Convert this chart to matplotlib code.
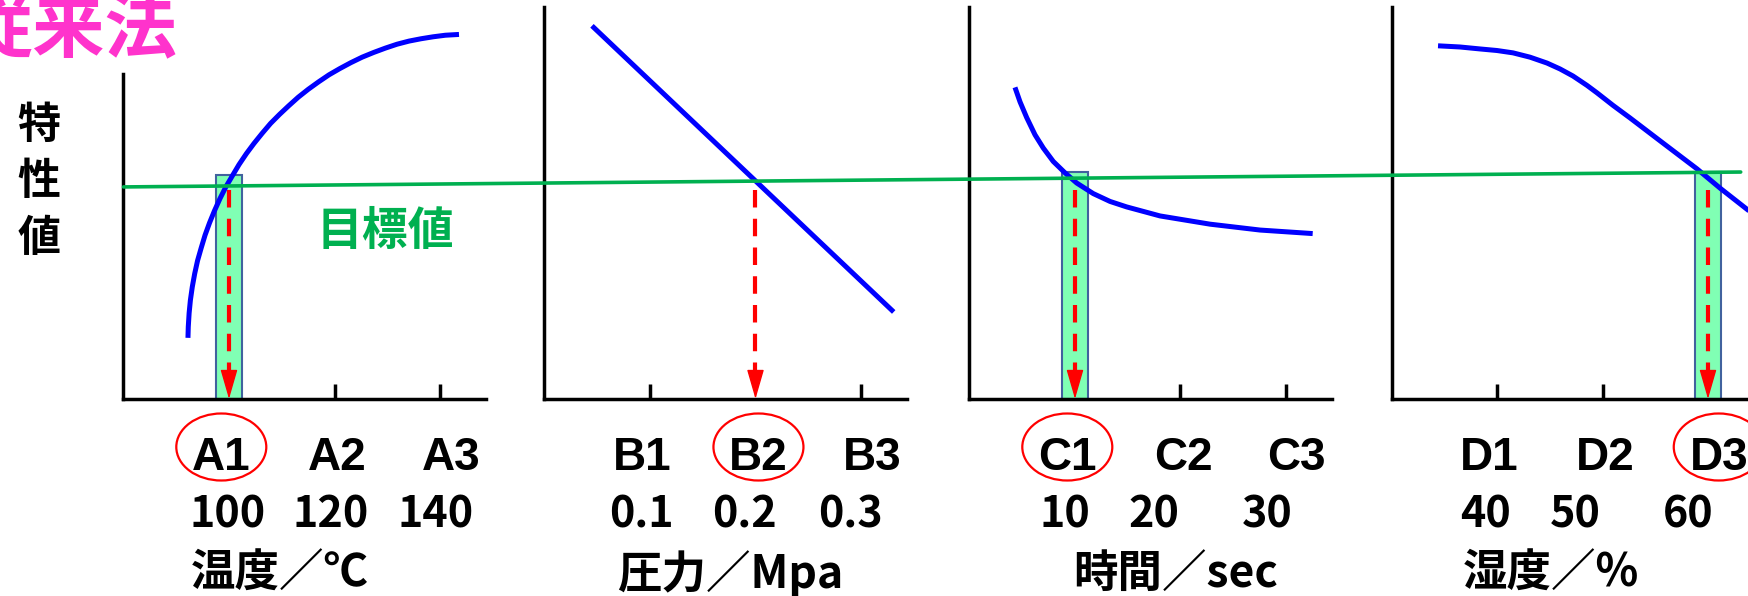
import matplotlib.pyplot as plt
import matplotlib.transforms as mtransforms
from matplotlib.patches import Ellipse, ConnectionPatch

plt.rcParams['font.family'] = ['Noto Sans CJK JP', 'DejaVu Sans']

# 因子ごとの水準ラベル
level_codes = [['A1', 'A2', 'A3'],
               ['B1', 'B2', 'B3'],
               ['C1', 'C2', 'C3'],
               ['D1', 'D2', 'D3']]
level_values = [['100', '120', '140'],
                ['0.1', '0.2', '0.3'],
                ['10', '20', '30'],
                ['40', '50', '60']]
factor_names = ['温度／℃', '圧力／Mpa', '時間／sec', '湿度／%']

# 特性値の曲線（x: 水準, y: 特性値）
temp_x = [0.611, 0.614, 0.622, 0.634, 0.652, 0.675, 0.702, 0.736, 0.773,
          0.815, 0.862, 0.914, 0.970, 1.031, 1.095, 1.165, 1.237, 1.315,
          1.394, 1.479, 1.566, 1.657, 1.751, 1.849, 1.948, 2.051, 2.155,
          2.262, 2.371, 2.481, 2.592, 2.706, 2.820, 2.935, 3.051, 3.180]
temp_y = [15.6, 18.4, 21.9, 25.2, 28.6, 32.0, 35.3, 38.5, 41.8,
          44.9, 48.0, 51.1, 54.1, 56.9, 59.8, 62.6, 65.2, 67.8,
          70.3, 72.6, 74.8, 77.0, 79.0, 80.9, 82.7, 84.3, 85.8,
          87.2, 88.4, 89.5, 90.5, 91.3, 91.9, 92.4, 92.8, 93.0]
press_x = [0.45, 3.31]
press_y = [95.2, 22.2]
time_x = [0.431, 0.479, 0.542, 0.621, 0.700, 0.794, 0.905, 1.016, 1.173,
          1.332, 1.490, 1.806, 2.280, 2.754, 3.253]
time_y = [79.5, 75.8, 71.8, 67.4, 64.0, 60.6, 57.7, 55.1, 52.4,
          50.4, 49.0, 46.7, 44.6, 43.1, 42.2]
humid_x = [0.441, 0.649, 0.839, 1.000, 1.152, 1.313, 1.474, 1.597, 1.720,
           1.853, 1.948, 2.100, 2.261, 2.573, 2.896, 3.114, 3.417]
humid_y = [90.1, 89.8, 89.3, 88.9, 88.3, 87.2, 85.7, 84.2, 82.4,
           80.0, 78.1, 74.9, 71.7, 65.3, 58.7, 53.8, 47.4]
curves = [(temp_x, temp_y), (press_x, press_y), (time_x, time_y), (humid_x, humid_y)]

# 選んだ水準と目標値
chosen_level = [1, 2, 1, 3]
band_top = [57.1, None, 57.9, 57.9]
arrow_from = [53.3, 53.3, 53.3, 53.3]
target_start = 54.1
target_end = 57.9

# レイアウト（ピクセル）
W, H = 1749, 596
axis_bottom, axis_top = 399, 7
level_px = 105.5
first_level_px = [229, 650, 1075, 1497]
spine_top = [82.9, 100, 100, 100]
x_max = 3.44
code_shift = [-0.073, 0.028, 0.102]
value_shift = [[-0.01, -0.04, -0.04],
               [-0.08, -0.10, -0.10],
               [-0.10, -0.25, -0.18],
               [-0.11, -0.26, -0.19]]
name_x = [0.64, 0.69, 0.98, 0.68]

blue = '#0000FF'
green = '#00B050'
red = '#FF0000'

fig = plt.figure(figsize=(17.49, 5.96), dpi=100)

axes = []
for i in range(4):
    left = (first_level_px[i] - level_px) / W
    ax = fig.add_axes([left, 1 - axis_bottom / H, x_max * level_px / W,
                       (axis_bottom - axis_top) / H])
    ax.set_xlim(0, x_max)
    ax.set_ylim(0, 100)
    ax.patch.set_alpha(0)
    ax.spines['top'].set_visible(False)
    ax.spines['right'].set_visible(False)
    for s in ['left', 'bottom']:
        ax.spines[s].set_linewidth(2.5)
        ax.spines[s].set_capstyle('projecting')
    ax.spines['left'].set_bounds(0, spine_top[i])
    ax.set_yticks([])
    sel = chosen_level[i]
    ax.set_xticks([lv for lv in (1, 2, 3) if lv != sel])
    ax.tick_params(axis='x', direction='in', length=10.8, width=2.5,
                   labelbottom=False)

    # 目標値を満たす範囲
    if band_top[i] is not None:
        ax.bar(sel, band_top[i], width=0.246, color='#80FFB4',
               edgecolor='#41629E', linewidth=1.5, zorder=2)

    cx, cy = curves[i]
    ax.plot(cx, cy, color=blue, lw=3.6, solid_capstyle='butt',
            solid_joinstyle='round', zorder=3)

    # 目標値から水準への矢印
    head = 6.6
    ax.plot([sel, sel], [arrow_from[i], head], color=red, lw=3.0,
            dashes=(4.2, 2.7), dash_capstyle='butt', zorder=4)
    ax.annotate('', xy=(sel, 0), xytext=(sel, head),
                arrowprops=dict(arrowstyle='-|>,head_length=1.87,head_width=0.54',
                                color=red, lw=1, shrinkA=0, shrinkB=0,
                                mutation_scale=10),
                zorder=4)

    blend = mtransforms.blended_transform_factory(ax.transData, fig.transFigure)
    for j in range(3):
        ax.text(j + 1 + code_shift[j], 1 - 458 / H, level_codes[i][j],
                transform=blend, ha='center', va='center', fontsize=33,
                fontweight='bold', family='Liberation Sans')
        ax.text(j + 1 + value_shift[i][j], 1 - 514 / H, level_values[i][j],
                transform=blend, ha='center', va='center', fontsize=31,
                fontweight='bold')
    ring = Ellipse((sel + code_shift[sel - 1], 1 - 447 / H), 90 / level_px, 67 / H,
                   transform=blend, fill=False, edgecolor=red, lw=1.6,
                   clip_on=False)
    ax.add_patch(ring)
    ax.text(name_x[i], 1 - 574 / H, factor_names[i], transform=blend,
            ha='left', va='center', fontsize=32, fontweight='bold')
    axes.append(ax)

axes[0].text(2.48, 42.6, '目標値', color=green, fontsize=33,
             fontweight='bold', ha='center', va='center')

# 全グラフを横切る目標値の線
target = ConnectionPatch(xyA=(0, target_start), coordsA=axes[0].transData,
                         xyB=(3.31, target_end), coordsB=axes[3].transData,
                         color=green, lw=2.6, zorder=2.5)
fig.add_artist(target)

fig.text(178 / W, 1 - 31 / H, '従来法', ha='right', va='center', fontsize=52,
         fontweight='bold', color='#FF33CC')
for ch, y in zip('特性値', [125, 181, 238]):
    fig.text(39 / W, 1 - y / H, ch, ha='center', va='center', fontsize=31,
             fontweight='bold')

fig.savefig('out.png', dpi=100)
